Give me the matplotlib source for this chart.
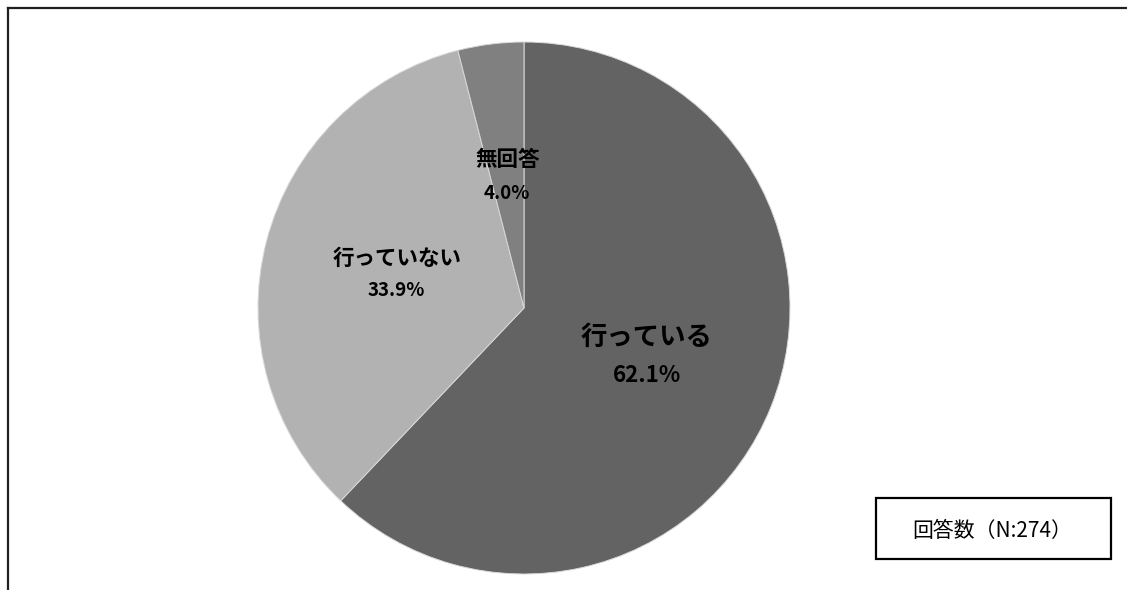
import matplotlib
matplotlib.use("Agg")
import matplotlib.pyplot as plt
from matplotlib.patches import Rectangle
from matplotlib.lines import Line2D

plt.rcParams['font.family'] = ['Noto Sans CJK JP', 'DejaVu Sans']

# data
labels = ['行っている', '行っていない', '無回答']
values = [62.1, 33.9, 4.0]
colors = ['#636363', '#b2b2b2', '#808080']
n_total = 274

W, H = 1127, 590
fig = plt.figure(figsize=(W / 100, H / 100), dpi=100)

# pie axes: centre (524, 308) px, radius 266 px
cx, cy, r = 524, 308, 266
ax = fig.add_axes([(cx - r) / W, (H - cy - r) / H, 2 * r / W, 2 * r / H])
wedges, _ = ax.pie(values, colors=colors, startangle=90, counterclock=False,
                   radius=1.0, wedgeprops=dict(edgecolor='#d8d8d8', linewidth=0.7))
ax.set_xlim(-1, 1)
ax.set_ylim(-1, 1)
ax.set_aspect('equal')
ax.axis('off')

# label positions (data coords) and sizes
label_pos = [(0.462, -0.109, 0.462, -0.252, 19, 16),
             (-0.477, 0.188, -0.481, 0.066, 15.5, 13.5),
             (-0.060, 0.560, -0.064, 0.432, 15.5, 13.5)]
for lab, val, (lx, ly, px, py, fs1, fs2) in zip(labels, values, label_pos):
    ax.text(lx, ly, lab, ha='center', va='center', fontsize=fs1,
            fontweight='bold', color='black')
    ax.text(px, py, f'{val:.1f}%', ha='center', va='center', fontsize=fs2,
            fontweight='bold', color='black')

# N box
fig.patches.append(Rectangle((876 / W, (H - 559) / H), 235 / W, 61 / H,
                             transform=fig.transFigure, fill=False,
                             edgecolor='black', linewidth=1.6))
fig.text(992 / W, (H - 531) / H, f'回答数（N:{n_total}）', ha='center', va='center',
         fontsize=15, color='black')

# outer frame (left and top only visible)
fig.lines.append(Line2D([7.5 / W, 7.5 / W], [0, (H - 7.5) / H],
                        transform=fig.transFigure, color='#202020', linewidth=1.6))
fig.lines.append(Line2D([7.5 / W, 1], [(H - 7.5) / H, (H - 7.5) / H],
                        transform=fig.transFigure, color='#202020', linewidth=1.6))

fig.savefig('out.png', dpi=100, facecolor='white')
